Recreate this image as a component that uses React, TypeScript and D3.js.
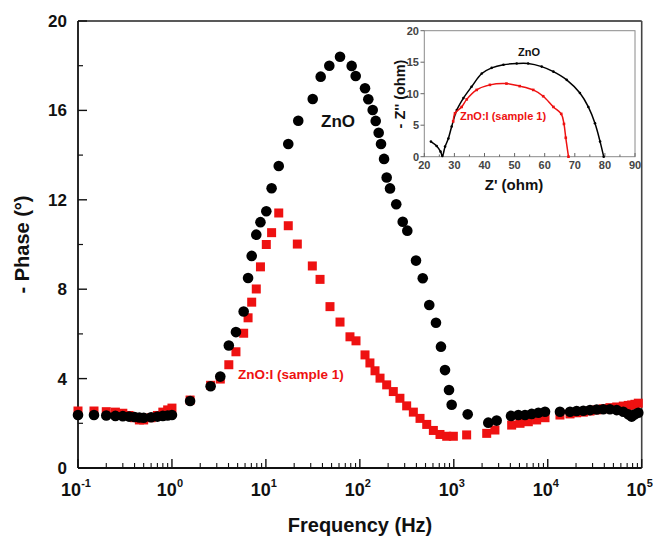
import React from "react";
import * as d3 from "d3";

// ---- Main chart data (Bode phase) ----
const znoFreq = [0.1,0.148,0.2,0.25,0.3,0.35,0.4,0.45,0.5,0.6,0.7,0.8,0.9,1.0,1.56,2.58,3.27,4.03,4.8,5.8,6.46,7.06,7.9,8.75,10.1,11.5,13.7,17.3,22.1,31.5,38.3,47.3,61.5,81.8,90.3,113.5,123,137,147.5,158.6,168,181,193,209.5,244,286,320,396,467,548,646,730,806,889,949,1406,2328,2859,4064,4864,5728,6745,7943,9352,13490,17260,20300,23900,28180,33190,39000,45900,54200,63700,71900,78200,84700,92000];
const znoPhase = [2.37,2.37,2.35,2.33,2.32,2.3,2.28,2.26,2.25,2.27,2.3,2.33,2.35,2.37,3.0,3.66,4.09,5.48,6.08,7.0,8.5,9.49,10.44,11.0,11.49,12.52,13.51,14.5,15.54,16.51,17.51,18.0,18.4,17.99,17.54,16.99,16.5,16.02,15.53,15.0,14.5,13.83,13.0,12.51,11.8,11.02,10.62,9.28,8.49,7.29,6.5,5.43,4.38,3.49,2.83,2.4,2.03,2.12,2.33,2.37,2.37,2.42,2.47,2.52,2.52,2.52,2.55,2.56,2.59,2.62,2.63,2.63,2.59,2.52,2.4,2.3,2.4,2.47];

const dopedFreq = [0.1,0.148,0.2,0.25,0.3,0.35,0.4,0.45,0.5,0.6,0.7,0.8,0.9,1.0,1.56,2.58,3.27,4.03,4.8,5.8,6.46,7.06,7.9,8.75,10.1,11.5,13.7,17.3,21.6,31.2,37.7,48.1,61.5,78.5,91,113.5,128,145,164,193,227,267,315,371,437,515,606,713,840,989,1370,2240,2740,4130,5070,6210,7620,9350,13490,17260,20300,23900,28180,33190,39000,45900,54200,63700,71900,78200,84700,92000];
const dopedPhase = [2.55,2.55,2.52,2.5,2.45,2.35,2.25,2.15,2.15,2.25,2.35,2.5,2.6,2.68,3.04,3.7,3.98,4.62,5.2,6.03,6.72,7.42,8.01,9.0,10.0,10.53,11.41,10.84,10.02,9.04,8.44,7.22,6.53,5.87,5.69,5.06,4.7,4.35,4.02,3.72,3.42,3.12,2.78,2.5,2.22,1.95,1.68,1.5,1.42,1.42,1.48,1.55,1.7,1.92,2.0,2.07,2.15,2.25,2.37,2.42,2.47,2.5,2.55,2.6,2.65,2.7,2.73,2.77,2.8,2.82,2.85,2.9];

const yTicks = [0, 4, 8, 12, 16, 20];
const yMinorTicks = [2, 6, 10, 14, 18];
const xExponents = [-1, 0, 1, 2, 3, 4, 5];

// ---- Inset data (Nyquist) ----
const znoZre = [22.2,24.1,25.4,26.0,26.9,28,29.1,30.8,33,35.7,39.1,42.4,46.3,50.7,54.5,59,62.9,67.3,71.7,74.5,76.7,78.4,79.6];
const znoZim = [2.4,1.7,0.8,0.1,1.6,2.9,4.8,7.4,9.3,11.1,13.2,14.1,14.6,14.8,14.8,14.3,13.5,12.2,10.1,7.9,5.3,2.4,0];
const dopedZre = [29.6,30.2,32.4,34.1,37.4,41.8,47.3,51.7,56.2,59.5,62.9,65.5,66.4,67.0,67.9];
const dopedZim = [5.6,6.9,7.9,9.1,10.6,11.4,11.6,11.2,10.6,9.6,7.9,6.8,5.2,3.0,0];
const insetXTicks = [20, 30, 40, 50, 60, 70, 80, 90];
const insetYTicks = [0, 5, 10, 15, 20];

const FONT = "'Liberation Sans', Arial, sans-serif";
const RED = "#ee1111";

export default function App() {
  const x = d3.scaleLog().domain([0.1, 1e5]).range([78, 641.7]);
  const y = d3.scaleLinear().domain([0, 20]).range([468, 21]);

  const ix = d3.scaleLinear().domain([20, 90]).range([424.3, 635]);
  const iy = d3.scaleLinear().domain([0, 20]).range([156.7, 30.7]);

  const minorX: number[] = [];
  for (let e = -1; e < 5; e++) {
    for (let m = 2; m <= 9; m++) minorX.push(m * Math.pow(10, e));
  }

  const line = d3
    .line<[number, number]>()
    .x((d) => ix(d[0]))
    .y((d) => iy(d[1]))
    .curve(d3.curveCatmullRom.alpha(0.5));

  const znoPts: [number, number][] = znoZre.map((v, i) => [v, znoZim[i]]);
  const dopedPts: [number, number][] = dopedZre.map((v, i) => [v, dopedZim[i]]);

  const inMinorX = d3.range(25, 90, 10);

  return (
    <svg
      width={653}
      height={536}
      style={{ position: "fixed", left: 0, top: 0, background: "#fff" }}
      fontFamily={FONT}
    >
      <rect x={0} y={0} width={653} height={536} fill="#fff" />

      {/* frame */}
      <line x1={78} y1={21} x2={641.7} y2={21} stroke="#222" strokeWidth={1.6} />
      <line x1={641.7} y1={21} x2={641.7} y2={468} stroke="#444" strokeWidth={1.6} />
      <line x1={78} y1={21} x2={78} y2={468} stroke="#111" strokeWidth={1.8} />
      <line x1={78} y1={468} x2={641.7} y2={468} stroke="#111" strokeWidth={1.8} />

      {/* y ticks */}
      {yTicks.map((t) => (
        <g key={"yt" + t}>
          <line x1={78} x2={87} y1={y(t)} y2={y(t)} stroke="#111" strokeWidth={1.4} />
          <text x={67} y={y(t) + 6} textAnchor="end" fontSize={17} fontWeight="bold" fill="#111">
            {t}
          </text>
        </g>
      ))}
      {yMinorTicks.map((t) => (
        <line key={"ym" + t} x1={78} x2={83} y1={y(t)} y2={y(t)} stroke="#111" strokeWidth={1.2} />
      ))}

      {/* x ticks */}
      {xExponents.map((e) => (
        <g key={"xt" + e}>
          <line x1={x(Math.pow(10, e))} x2={x(Math.pow(10, e))} y1={468} y2={459} stroke="#111" strokeWidth={1.4} />
          <text x={x(Math.pow(10, e)) - 2} y={496} textAnchor="middle" fontSize={18} fontWeight="bold" fill="#111">
            10
            <tspan dy={-9} fontSize={11}>
              {e}
            </tspan>
          </text>
        </g>
      ))}
      {minorX.map((v, i) => (
        <line key={"xm" + i} x1={x(v)} x2={x(v)} y1={468} y2={463} stroke="#111" strokeWidth={1.1} />
      ))}

      {/* axis titles */}
      <text
        transform={`translate(29,${(21 + 468) / 2}) rotate(-90)`}
        textAnchor="middle"
        fontSize={20}
        fontWeight="bold"
        fill="#111"
      >
        - Phase (°)
      </text>
      <text x={360} y={532} textAnchor="middle" fontSize={20} fontWeight="bold" fill="#111">
        Frequency (Hz)
      </text>

      {/* data: doped (red squares) */}
      {dopedFreq.map((f, i) => (
        <rect key={"r" + i} x={x(f) - 4.5} y={y(dopedPhase[i]) - 4.5} width={9} height={9} fill={RED} />
      ))}
      {/* data: ZnO (black circles) */}
      {znoFreq.map((f, i) => (
        <circle key={"c" + i} cx={x(f)} cy={y(znoPhase[i])} r={5.3} fill="#000" />
      ))}

      {/* labels */}
      <text x={338} y={127} textAnchor="middle" fontSize={17} fontWeight="bold" fill="#111">
        ZnO
      </text>
      <text x={238} y={379} fontSize={13.5} fontWeight="bold" fill={RED}>
        ZnO:I (sample 1)
      </text>

      {/* inset */}
      <rect x={424.3} y={30.7} width={635 - 424.3} height={156.7 - 30.7} fill="#fff" stroke="#8a8a8a" strokeWidth={1} />
      {insetYTicks.map((t) => (
        <g key={"iy" + t}>
          <line x1={420.5} x2={424.3} y1={iy(t)} y2={iy(t)} stroke="#666" strokeWidth={1} />
          <text x={419} y={iy(t) + 4} textAnchor="end" fontSize={11} fontWeight="bold" fill="#444">
            {t}
          </text>
        </g>
      ))}
      {insetXTicks.map((t) => (
        <g key={"ix" + t}>
          <line x1={ix(t)} x2={ix(t)} y1={156.7} y2={153} stroke="#666" strokeWidth={1} />
          <text x={ix(t)} y={169} textAnchor="middle" fontSize={11} fontWeight="bold" fill="#444">
            {t}
          </text>
        </g>
      ))}
      {inMinorX.map((t) => (
        <line key={"imx" + t} x1={ix(t)} x2={ix(t)} y1={156.7} y2={154.5} stroke="#666" strokeWidth={1} />
      ))}
      <text x={514} y={190} textAnchor="middle" fontSize={15} fontWeight="bold" fill="#111">
        Z' (ohm)
      </text>
      <text
        transform={`translate(405,${94}) rotate(-90)`}
        textAnchor="middle"
        fontSize={14.5}
        fontWeight="bold"
        fill="#111"
      >
        - Z'' (ohm)
      </text>

      <path d={line(znoPts) || ""} fill="none" stroke="#000" strokeWidth={1.5} />
      {znoPts.map((p, i) => (
        <circle key={"zi" + i} cx={ix(p[0])} cy={iy(p[1])} r={1.3} fill="#000" />
      ))}
      <path d={line(dopedPts) || ""} fill="none" stroke={RED} strokeWidth={1.5} />
      {dopedPts.map((p, i) => (
        <rect key={"di" + i} x={ix(p[0]) - 1.3} y={iy(p[1]) - 1.3} width={2.6} height={2.6} fill={RED} />
      ))}

      <text x={529} y={56} textAnchor="middle" fontSize={11} fontWeight="bold" fill="#111">
        ZnO
      </text>
      <text x={503} y={120} textAnchor="middle" fontSize={11} fontWeight="bold" fill={RED}>
        ZnO:I (sample 1)
      </text>
    </svg>
  );
}
